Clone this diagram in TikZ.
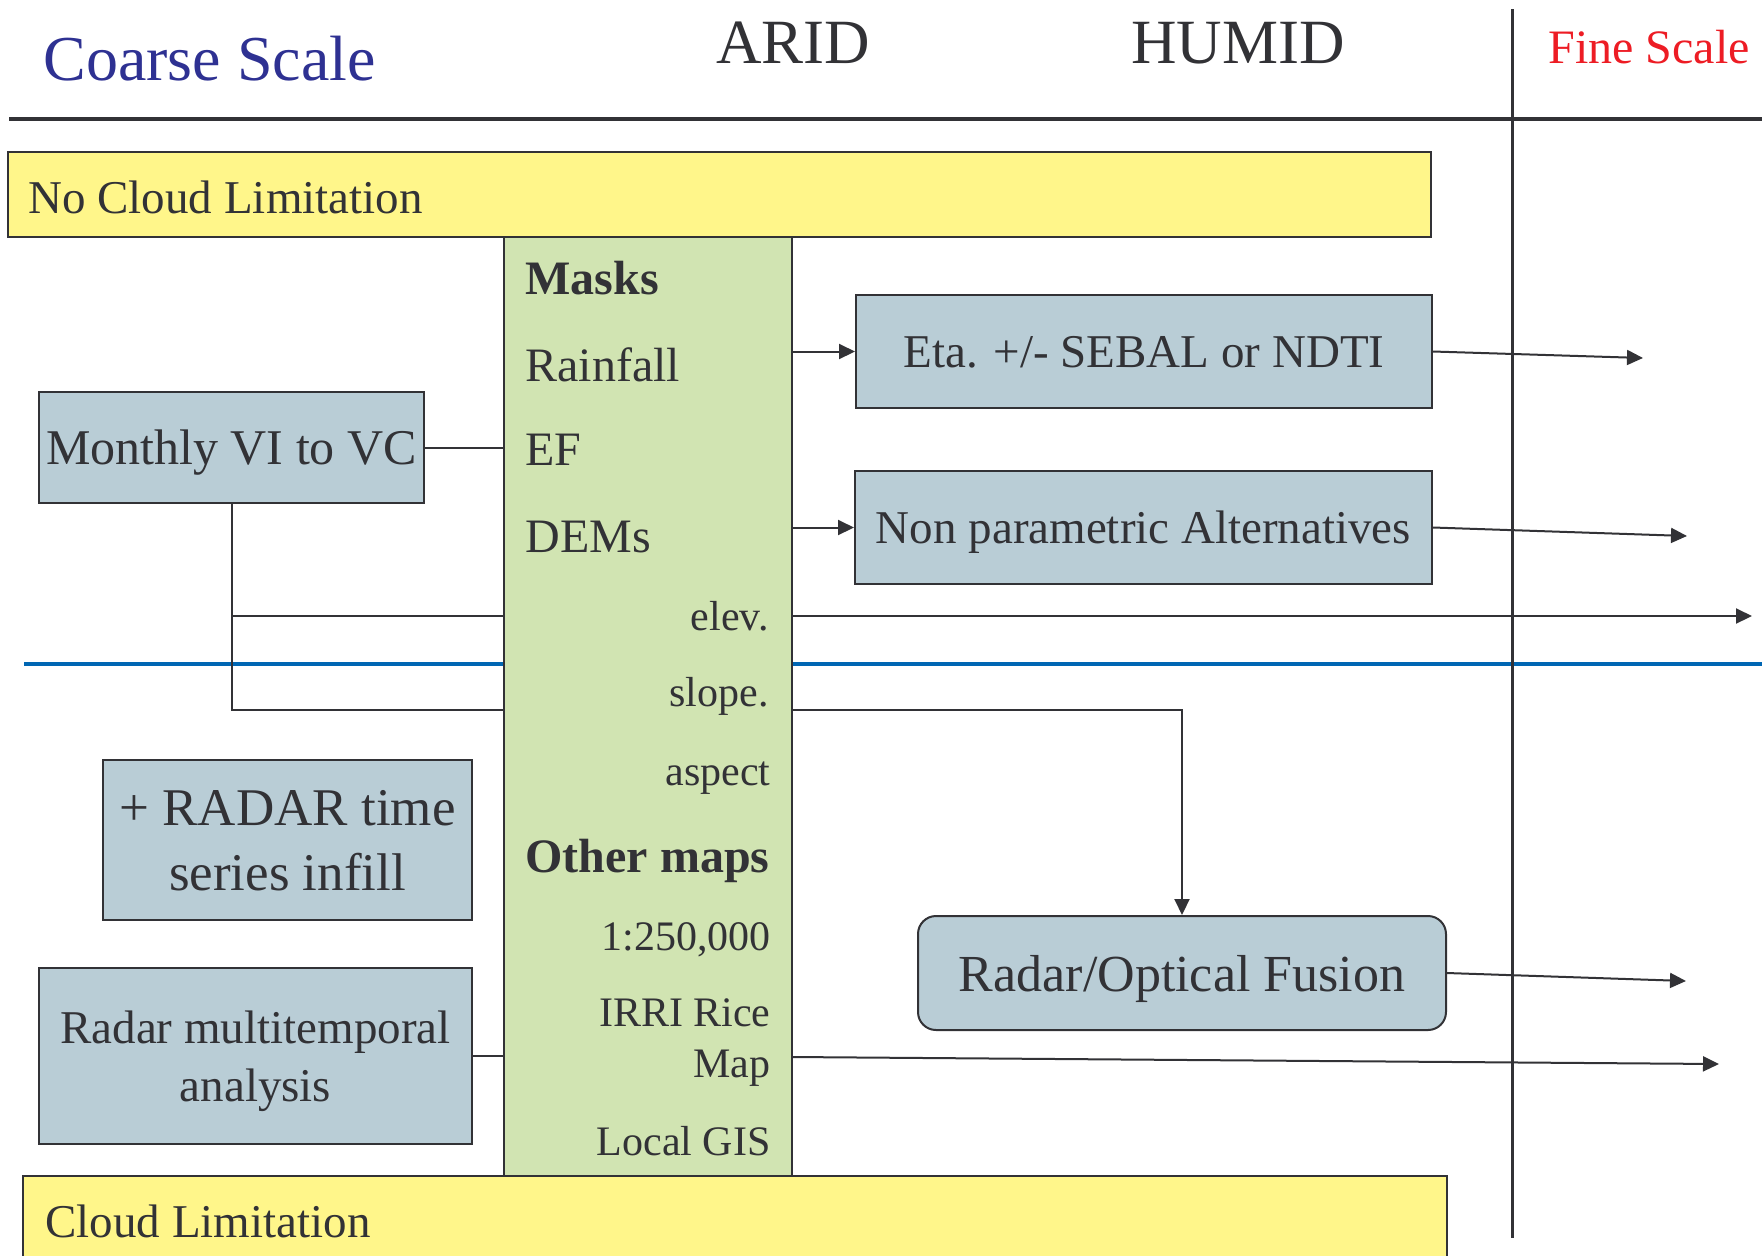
\documentclass[tikz,border=0pt]{standalone}
\usepackage{fontspec}
\setmainfont{Liberation Serif}
\usetikzlibrary{positioning,arrows.meta,fit}

\definecolor{ink}{RGB}{50,50,54}
\definecolor{notecol}{RGB}{255,246,138}
\definecolor{layercol}{RGB}{209,228,178}
\definecolor{proccol}{RGB}{185,205,214}
\definecolor{coarsecol}{RGB}{46,49,146}
\definecolor{finecol}{RGB}{237,28,36}
\definecolor{divcol}{RGB}{0,102,179}

\tikzset{
  band/.style={draw=ink,line width=1pt,fill=notecol,inner sep=0pt},
  layer/.style={draw=ink,line width=1pt,fill=layercol,inner sep=0pt},
  proc/.style={draw=ink,line width=1pt,fill=proccol,inner sep=0pt,align=center,text=ink,text depth=0pt},
  conn/.style={draw=ink,line width=1pt},
  lbl/.style={inner sep=0pt,text=ink},
  bigtxt/.style={font=\fontsize{24}{29}\selectfont},
  boldtxt/.style={font=\bfseries\fontsize{24}{29}\selectfont},
  smalltxt/.style={font=\fontsize{21}{25}\selectfont},
  headtxt/.style={font=\fontsize{31.5}{38}\selectfont}
}

\begin{document}
\begin{tikzpicture}[x=0.5pt,y=-0.5pt,>={Triangle[length=8pt,width=7.5pt]}]
  \useasboundingbox (0,0) rectangle (1762,1255);
  % ---------------- header ----------------
  \node[lbl,anchor=base west,text=coarsecol,font=\fontsize{32}{38}\selectfont] (coarse) at (43,80) {Coarse Scale};
  \node[lbl,headtxt,anchor=base] (arid) at (793,63) {ARID};
  \node[lbl,headtxt,anchor=base] (humid) at (1238,63) {HUMID};
  \node[lbl,bigtxt,anchor=base west,text=finecol] (fine) at (1548,63) {Fine Scale};
  \draw[ink,line width=2pt] (9,119) -- (1762,119);
  % ---------------- bands ----------------
  \draw[divcol,line width=2pt] (24,664) -- (1762,664);
  \draw[ink,line width=1.5pt] (1512,9) -- (1512,1238);
  \node[band,fit={(8,152) (1431,237)}] (nocloud) {};
  \node[lbl,anchor=base west,font=\fontsize{23.5}{28}\selectfont] (nocloudtxt) at (28,213) {No Cloud Limitation};
  \node[band,fit={(23,1176) (1447,1280)}] (cloud) {};
  \node[lbl,anchor=base west,font=\fontsize{23.5}{28}\selectfont] (cloudtxt) at (45,1237) {Cloud Limitation};
  % ---------------- data column ----------------
  \node[layer,fit={(504,237) (792,1176)}] (col) {};
  \node[lbl,boldtxt,anchor=base west] (masks) at (525,294) {Masks};
  \node[lbl,bigtxt,anchor=base west] (rain) at (525,381) {Rainfall};
  \node[lbl,bigtxt,anchor=base west] (ef) at (525,465) {EF};
  \node[lbl,bigtxt,anchor=base west] (dems) at (525,552) {DEMs};
  \node[lbl,smalltxt,anchor=base east] (elev) at (769,630) {elev.};
  \node[lbl,smalltxt,anchor=base east] (slope) at (769,706) {slope.};
  \node[lbl,smalltxt,anchor=base east] (aspect) at (771,785) {aspect};
  \node[lbl,boldtxt,anchor=base west] (other) at (525,872) {Other maps};
  \node[lbl,smalltxt,anchor=base east] (scale) at (771,950) {1:250,000};
  \node[lbl,smalltxt,anchor=base east] (irri) at (771,1026) {IRRI Rice};
  \node[lbl,smalltxt,anchor=base east] (map) at (771,1077) {Map};
  \node[lbl,smalltxt,anchor=base east] (gis) at (771,1155) {Local GIS};
  % ---------------- processes ----------------
  \node[proc,minimum width=192.5pt,minimum height=55.5pt,font=\fontsize{25}{30}\selectfont] (vi) at (231.5,447.5) {Monthly VI to VC};
  \node[proc,minimum width=184.5pt,minimum height=80pt,font=\fontsize{26.5}{32.5}\selectfont] (radar) at (287.5,840) {+ RADAR time\\series infill};
  \node[proc,minimum width=216.5pt,minimum height=88pt,font=\fontsize{23.5}{29}\selectfont] (multi) at (255.5,1056) {Radar multitemporal\\analysis};
  \node[proc,minimum width=288pt,minimum height=56.5pt,font=\fontsize{23.5}{28}\selectfont] (eta) at (1144,351.5) {Eta. +/- SEBAL or NDTI};
  \node[proc,minimum width=288.5pt,minimum height=56.5pt,font=\fontsize{23.5}{28}\selectfont] (npa) at (1143.5,527.5) {Non parametric Alternatives};
  \node[proc,rounded corners=9pt,minimum width=264pt,minimum height=57pt,font=\fontsize{26}{31}\selectfont] (fusion) at (1182,973) {Radar/Optical Fusion};
  % ---------------- links ----------------
  \coordinate (elevrow) at (0,616);
  \coordinate (sloperow) at (0,710);
  \coordinate (maprow) at (0,1057);
  \coordinate (etaend) at (1643,358);
  \coordinate (npaend) at (1687,536);
  \coordinate (elevend) at (1752,616);
  \coordinate (fusionend) at (1686,981);
  \coordinate (mapend) at (1719,1064);
  \draw[conn] (vi.east) -- (vi.east -| col.west);
  \draw[conn] (vi.south) |- (col.west |- sloperow);
  \draw[conn] (vi.south |- elevrow) -- (col.west |- elevrow);
  \draw[conn] (multi.east) -- (multi.east -| col.west);
  \draw[conn,->] (col.east |- eta.west) -- (eta.west);
  \draw[conn,->] (col.east |- npa.west) -- (npa.west);
  \draw[conn,->] (eta.east) -- (etaend);
  \draw[conn,->] (npa.east) -- (npaend);
  \draw[conn,->] (col.east |- elevrow) -- (elevend);
  \draw[conn,->] (col.east |- sloperow) -| (fusion.north);
  \draw[conn,->] (fusion.east) -- (fusionend);
  \draw[conn,->] (col.east |- maprow) -- (mapend);
\end{tikzpicture}
\end{document}
